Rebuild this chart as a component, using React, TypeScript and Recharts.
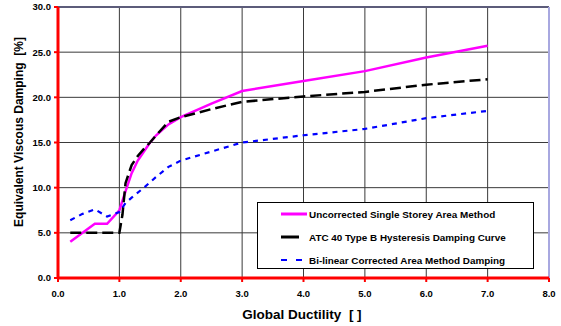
import { LineChart, Line, XAxis, YAxis, CartesianGrid, ReferenceLine } from 'recharts';

// Global ductility (x) and equivalent viscous damping [%] (y) per curve
const uncorrectedDuctility = [0.2, 0.4, 0.6, 0.8, 1.0, 1.1, 1.2, 1.3, 1.4, 1.5, 1.6, 1.8, 2.0, 2.5, 3.0, 4.0, 5.0, 6.0, 7.0];
const uncorrectedDamping = [4.0, 5.0, 6.0, 6.0, 7.5, 9.6, 11.6, 13.0, 14.0, 15.0, 15.8, 17.0, 17.8, 19.3, 20.7, 21.8, 22.9, 24.4, 25.7];

const atcDuctility = [0.2, 1.0, 1.05, 1.1, 1.2, 1.3, 1.4, 1.5, 1.6, 1.8, 2.0, 2.5, 3.0, 4.0, 5.0, 6.0, 7.0];
const atcDamping = [5.0, 5.0, 7.0, 10.5, 12.5, 13.5, 14.3, 15.0, 15.8, 17.3, 17.8, 18.7, 19.5, 20.1, 20.6, 21.4, 22.0];

const bilinearDuctility = [0.2, 0.4, 0.6, 0.8, 1.0, 1.1, 1.2, 1.4, 1.6, 1.8, 2.0, 2.5, 3.0, 4.0, 5.0, 6.0, 7.0];
const bilinearDamping = [6.4, 7.1, 7.6, 6.8, 7.3, 8.3, 8.9, 10.0, 11.2, 12.3, 13.0, 14.0, 15.0, 15.8, 16.5, 17.7, 18.5];

const xTicks = [0, 1, 2, 3, 4, 5, 6, 7, 8];
const yTicks = [0, 5, 10, 15, 20, 25, 30];

const SERIES = [
  { name: 'Uncorrected Single Storey Area Method', color: '#ff00ff', dash: undefined, width: 2.5 },
  { name: 'ATC 40 Type B Hysteresis Damping Curve', color: '#000000', dash: '11 5', width: 2.5 },
  { name: 'Bi-linear Corrected Area Method Damping', color: '#0000ff', dash: '5 5', width: 2.2 },
];

const toPoints = (xs: number[], ys: number[]) => xs.map((x, i) => ({ x, y: ys[i] }));

const FONT = '"Liberation Sans", Arial, sans-serif';
const tickStyle = { fill: '#000', fontSize: 9.5, fontWeight: 'bold' as const, fontFamily: FONT };

export default function App() {
  const seriesData = [
    toPoints(uncorrectedDuctility, uncorrectedDamping),
    toPoints(atcDuctility, atcDamping),
    toPoints(bilinearDuctility, bilinearDamping),
  ];

  return (
    <div style={{ position: 'absolute', left: 0, top: 0, width: 561, height: 326, background: '#fff', fontFamily: FONT }}>
      <LineChart width={561} height={326} margin={{ top: 7, right: 12, left: 18, bottom: 28 }}>
        <CartesianGrid stroke="#3a3a3a" strokeWidth={1} />
        <XAxis
          type="number"
          dataKey="x"
          domain={[0, 8]}
          ticks={xTicks}
          tickFormatter={(v: number) => v.toFixed(1)}
          stroke="#ff0000"
          axisLine={{ stroke: '#ff0000', strokeWidth: 3 }}
          tickLine={{ stroke: '#ff0000', strokeWidth: 2 }}
          tickSize={4}
          tickMargin={8}
          tick={tickStyle}
          height={20}
        />
        <YAxis
          type="number"
          dataKey="y"
          domain={[0, 30]}
          ticks={yTicks}
          tickFormatter={(v: number) => v.toFixed(1)}
          axisLine={{ stroke: '#ff0000', strokeWidth: 3 }}
          tickLine={{ stroke: '#ff0000', strokeWidth: 2 }}
          tickSize={4}
          tickMargin={3}
          tick={tickStyle}
          width={40}
        />
        <ReferenceLine y={30} stroke="#5c5c7a" strokeWidth={2} />
        <ReferenceLine x={8} stroke="#a8a8e0" strokeWidth={2} />
        {SERIES.map((s, i) => (
          <Line
            key={s.name}
            data={seriesData[i]}
            dataKey="y"
            name={s.name}
            type="linear"
            stroke={s.color}
            strokeWidth={s.width}
            strokeDasharray={s.dash}
            dot={false}
            isAnimationActive={false}
          />
        ))}
      </LineChart>

      {/* legend box */}
      <div
        style={{
          position: 'absolute',
          left: 257,
          top: 202,
          width: 277,
          height: 67,
          background: '#fff',
          border: '1px solid #000',
          boxSizing: 'border-box',
        }}
      >
        {SERIES.map((s, i) => (
          <div key={s.name} style={{ position: 'absolute', left: 23, top: 4 + i * 23, height: 14, display: 'flex', alignItems: 'center' }}>
            <svg width={28} height={6}>
              <line
                x1={0}
                y1={3}
                x2={i === 0 ? 26 : i === 1 ? 18 : 22}
                y2={3}
                stroke={s.color}
                strokeWidth={i === 2 ? 2.2 : 3}
                strokeDasharray={i === 2 ? '6 9' : undefined}
              />
            </svg>
            <span style={{ fontSize: 9.9, fontWeight: 'bold', color: '#000', whiteSpace: 'nowrap' }}>{s.name}</span>
          </div>
        ))}
      </div>

      {/* axis titles */}
      <div
        style={{
          position: 'absolute',
          left: 19,
          top: 132,
          transform: 'translate(-50%, -50%) rotate(-90deg)',
          fontSize: 12,
          fontWeight: 'bold',
          whiteSpace: 'pre',
          color: '#000',
        }}
      >
        {'Equivalent Viscous Damping  [%]'}
      </div>
      <div
        style={{
          position: 'absolute',
          left: 302,
          top: 314,
          transform: 'translate(-50%, -50%)',
          fontSize: 13.5,
          fontWeight: 'bold',
          whiteSpace: 'pre',
          color: '#000',
        }}
      >
        {'Global Ductility  [ ]'}
      </div>
    </div>
  );
}
